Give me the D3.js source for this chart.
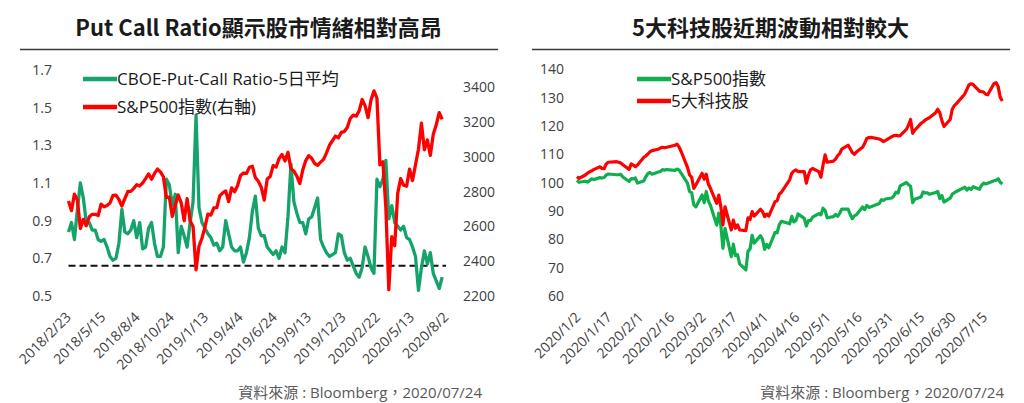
<!DOCTYPE html>
<html><head><meta charset="utf-8">
<script src="https://cdn.jsdelivr.net/npm/d3@7"></script>
<style>
body{margin:0;background:#fff;}
svg text{font-family:"Open Sans","Noto Sans CJK TC",sans-serif;}
</style></head><body>
<svg id="c" width="1024" height="403"></svg>
<script>
// ---------------- Left chart data (weekly observations from 2018-02-23) ----------------
const pcrStart = "2018-02-23";
const pcrRatio = [
0.84,0.89,0.80,0.96,1.10,1.02,0.89,0.89,0.85,0.85,
0.80,0.79,0.80,0.76,0.71,0.69,0.70,0.78,0.96,0.84,
0.83,0.85,0.90,0.81,0.89,0.75,0.76,0.86,0.89,0.78,
0.71,0.71,0.76,1.12,1.09,0.98,1.04,0.73,0.87,0.82,
0.76,0.89,1.00,1.46,0.97,0.89,0.86,0.83,0.81,0.77,
0.78,0.74,0.76,0.90,0.83,0.76,0.74,0.74,0.76,0.68,
0.73,0.81,0.95,1.03,0.86,0.82,0.82,0.76,0.74,0.72,
0.74,0.70,0.76,0.73,0.92,1.20,1.00,0.94,0.89,0.89,
0.83,0.91,0.92,0.97,1.02,0.80,0.76,0.73,0.71,0.72,
0.73,0.83,0.82,0.73,0.69,0.70,0.66,0.62,0.60,0.65,
0.76,0.71,0.65,0.62,1.12,1.08,1.12,1.22,0.91,0.98,
0.89,0.87,0.85,0.87,0.81,0.80,0.76,0.71,0.53,0.65,
0.74,0.67,0.73,0.62,0.58,0.54,0.60];
const spxWeekly = [
2747,2691,2786,2752,2588,2641,2604,2656,2670,2670,
2663,2728,2713,2721,2735,2779,2780,2755,2718,2760,
2801,2802,2819,2840,2833,2850,2875,2902,2872,2905,
2930,2914,2886,2767,2768,2658,2723,2781,2736,2633,
2760,2633,2600,2351,2486,2532,2596,2671,2665,2707,
2708,2776,2793,2804,2743,2822,2800,2834,2893,2907,
2905,2940,2946,2881,2860,2826,2752,2873,2887,2950,
2942,2990,3014,2977,3026,2932,2919,2889,2847,2926,
2979,3007,2992,2962,2952,2970,2986,3023,3067,3093,
3120,3110,3141,3146,3169,3221,3240,3235,3265,3330,
3295,3226,3328,3380,3338,2954,2972,2711,2237,2541,
2489,2790,2875,2837,2831,2930,2864,2955,3044,3194,
3041,3098,3009,3130,3185,3255,3216];
const pcrThreshold = 0.66;
const leftXTicks = ["2018/2/23","2018/5/15","2018/8/4","2018/10/24","2019/1/13","2019/4/4","2019/6/24","2019/9/13","2019/12/3","2020/2/22","2020/5/13","2020/8/2"];
const leftYTicks = [0.5,0.7,0.9,1.1,1.3,1.5,1.7];
const leftY2Ticks = [2200,2400,2600,2800,3000,3200,3400];

// ---------------- Right chart data (trading days 2020-01-02 .. 2020-07-24) ----------------
const tradeStart = "2020-01-02", tradeEnd = "2020-07-24";
const marketHolidays = ["2020-01-20","2020-02-17","2020-04-10","2020-05-25","2020-07-03"];
const spxIndexed = [
100.84,100.13,100.48,100.20,100.69,101.36,101.07,101.77,101.62,101.81,102.66,103.06,102.79,102.82,102.93,102.00,100.40,101.41,101.32,101.64,99.84,
100.56,102.07,103.22,103.56,103.00,103.75,103.93,104.60,104.43,104.62,104.32,104.81,104.41,103.31,99.85,96.83,96.46,92.20,91.44,
95.65,92.96,96.88,93.60,92.00,85.01,89.21,84.85,76.78,83.91,73.86,78.28,74.23,74.58,71.34,69.25,75.75,76.62,81.41,78.66,81.30,80.00,
76.47,78.21,77.03,82.45,82.31,85.12,86.35,85.48,88.09,86.15,86.65,88.97,87.38,84.70,86.64,86.60,87.80,89.10,88.63,90.98,90.15,
87.62,87.99,88.78,88.16,89.18,90.68,90.70,88.84,87.28,88.29,88.64,91.43,90.47,91.98,91.26,91.48,92.60,93.98,93.78,94.23,
94.58,95.36,96.66,96.33,98.86,100.05,99.27,98.74,92.92,94.13,94.92,96.72,96.37,96.43,95.88,96.50,96.92,94.41,95.45,93.14,94.50,95.96,
96.44,96.88,98.42,97.35,98.12,97.56,98.58,97.66,98.97,99.87,99.53,99.81,100.65,100.82,101.40,100.15,99.53];
const tech5 = [
102.1,101.5,102.7,103.3,103.8,104.1,104.6,105.6,105.0,104.9,106.6,107.2,107.4,107.2,106.9,106.3,104.7,106.6,106.2,105.6,106.2,
108.9,109.4,110.1,110.9,111.3,111.8,112.2,112.5,112.3,112.5,113.2,113.6,112.5,110.9,105.4,102.7,101.9,98.0,99.2,
103.3,101.2,103.0,99.5,98.0,92.7,95.6,91.5,85.1,91.5,83.3,86.8,83.9,85.1,83.3,83.1,87.6,87.0,89.8,88.2,90.6,89.8,
88.0,88.9,88.2,93.3,93.6,95.9,96.6,101.0,103.3,104.1,104.5,103.9,103.9,99.8,102.7,104.5,105.0,103.9,101.9,106.2,109.8,
107.2,107.6,108.3,109.5,110.3,111.8,113.2,112.1,110.6,110.0,110.8,112.5,113.9,115.6,115.9,116.0,115.4,115.0,114.5,114.9,
116.2,116.6,116.7,116.5,116.6,118.8,120.3,122.3,117.4,118.5,120.9,121.4,122.1,122.5,122.9,124.7,125.9,124.7,121.9,119.8,122.3,125.9,
127.2,127.9,131.3,132.9,134.5,134.9,134.6,132.3,132.1,132.0,131.2,131.0,135.0,135.3,133.9,130.1,128.8];
const rightXTicks = ["2020/1/2","2020/1/17","2020/2/1","2020/2/16","2020/3/2","2020/3/17","2020/4/1","2020/4/16","2020/5/1","2020/5/16","2020/5/31","2020/6/15","2020/6/30","2020/7/15"];
const rightYTicks = [60,70,80,90,100,110,120,130,140];

// ---------------- helpers ----------------
const svg = d3.select("#c");
const CJK = '"Noto Sans CJK TC","Open Sans",sans-serif';
const parseISO = d3.utcParse("%Y-%m-%d");
const parseSlash = s => { const p = s.split("/").map(Number); return new Date(Date.UTC(p[0], p[1]-1, p[2])); };
const fmtSlash = d => `${d.getUTCFullYear()}/${d.getUTCMonth()+1}/${d.getUTCDate()}`;
const AX = "#404040";

function styleAxis(g){
  g.select(".domain").remove();
  g.selectAll(".tick line").remove();
  g.selectAll("text").attr("fill", AX).style("font-size","14px");
}
function rotateX(g, dx){
  g.selectAll("text")
    .attr("text-anchor","end").attr("dy",0)
    .attr("x",dx).attr("y",22)
    .attr("transform",`rotate(-45,${dx},22)`);
}
function header(cx, x0, x1, title){
  svg.append("text").attr("x",cx).attr("y",36).attr("text-anchor","middle")
    .style("font-family",CJK).style("font-size","22px").style("font-weight","700")
    .attr("fill","#1a1a1a").text(title);
  svg.append("line").attr("x1",x0).attr("x2",x1).attr("y1",49.5).attr("y2",49.5)
    .attr("stroke","#3a3a3a").attr("stroke-width",1.3);
}
function source(xr){
  svg.append("text").attr("x",xr).attr("y",398).attr("text-anchor","end")
    .style("font-size","15px").attr("fill","#595959").text("資料來源 : Bloomberg，2020/07/24");
}
function legendItem(x, y, color, label){
  svg.append("line").attr("x1",x).attr("x2",x+34).attr("y1",y).attr("y2",y)
    .attr("stroke",color).attr("stroke-width",4.5);
  svg.append("text").attr("x",x+34).attr("y",y+6).style("font-size","17px")
    .attr("fill","#1a1a1a").text(label);
}

// ---------------- Left chart ----------------
const GREEN_L = "#16a36b", RED = "#fe0000", GREEN_R = "#0fae4f";
header(258.5, 20, 498, "Put Call Ratio顯示股市情緒相對高昂");
const pcrDates = pcrRatio.map((_, i) => d3.utcDay.offset(parseISO(pcrStart), 7*i));
const xL = d3.scaleUtc().domain([parseISO("2018-02-23"), parseISO("2020-08-02")]).range([68.5, 446]);
const yL = d3.scaleLinear().domain([0.5, 1.7]).range([296, 70]);
const yL2 = d3.scaleLinear().domain([2200, 3500]).range([296, 70]);

svg.append("g").attr("transform","translate(52,0)")
  .call(d3.axisLeft(yL).tickValues(leftYTicks).tickFormat(d3.format(".1f")).tickSize(0).tickPadding(0))
  .call(styleAxis);
svg.append("g").attr("transform","translate(463,0)")
  .call(d3.axisRight(yL2).tickValues(leftY2Ticks).tickFormat(d3.format("d")).tickSize(0).tickPadding(0))
  .call(styleAxis);
svg.append("g").attr("transform","translate(0,296)")
  .call(d3.axisBottom(xL).tickValues(leftXTicks.map(parseSlash)).tickFormat(fmtSlash).tickSize(0))
  .call(styleAxis).call(g => rotateX(g, 3));

svg.append("line")
  .attr("x1", xL.range()[0]).attr("x2", xL.range()[1])
  .attr("y1", yL(pcrThreshold)).attr("y2", yL(pcrThreshold))
  .attr("stroke","#111").attr("stroke-width",2).attr("stroke-dasharray","7,4");

svg.append("path").datum(pcrRatio)
  .attr("fill","none").attr("stroke",GREEN_L).attr("stroke-width",3.3).attr("stroke-linejoin","round")
  .attr("d", d3.line().x((d,i)=>xL(pcrDates[i])).y(d=>yL(d)));
svg.append("path").datum(spxWeekly)
  .attr("fill","none").attr("stroke",RED).attr("stroke-width",3.3).attr("stroke-linejoin","round")
  .attr("d", d3.line().x((d,i)=>xL(pcrDates[i])).y(d=>yL2(d)));

legendItem(83, 79, GREEN_L, "CBOE-Put-Call Ratio-5日平均");
legendItem(83, 107, RED, "S&P500指數(右軸)");
source(482);

// ---------------- Right chart ----------------
header(770.5, 532, 1010, "5大科技股近期波動相對較大");
const hol = new Set(marketHolidays);
const tradeDates = d3.utcDay.range(parseISO(tradeStart), d3.utcDay.offset(parseISO(tradeEnd),1))
  .filter(d => d.getUTCDay() !== 0 && d.getUTCDay() !== 6 && !hol.has(d3.utcFormat("%Y-%m-%d")(d)));
const xR = d3.scaleUtc().domain([parseISO("2020-01-02"), parseISO("2020-07-26")]).range([577, 1006.5]);
const yRt = d3.scaleLinear().domain([60, 140]).range([296, 69.3]);

svg.append("g").attr("transform","translate(564,0)")
  .call(d3.axisLeft(yRt).tickValues(rightYTicks).tickFormat(d3.format("d")).tickSize(0).tickPadding(0))
  .call(styleAxis);
svg.append("g").attr("transform","translate(0,296)")
  .call(d3.axisBottom(xR).tickValues(rightXTicks.map(parseSlash)).tickFormat(fmtSlash).tickSize(0))
  .call(styleAxis).call(g => rotateX(g, 4));

const n = Math.min(tradeDates.length, spxIndexed.length, tech5.length);
svg.append("path").datum(spxIndexed.slice(0,n))
  .attr("fill","none").attr("stroke",GREEN_R).attr("stroke-width",3.2).attr("stroke-linejoin","round")
  .attr("d", d3.line().x((d,i)=>xR(tradeDates[i])).y(d=>yRt(d)));
svg.append("path").datum(tech5.slice(0,n))
  .attr("fill","none").attr("stroke",RED).attr("stroke-width",3.2).attr("stroke-linejoin","round")
  .attr("d", d3.line().x((d,i)=>xR(tradeDates[i])).y(d=>yRt(d)));

legendItem(637, 79, GREEN_R, "S&P500指數");
legendItem(637, 101, RED, "5大科技股");
source(1004);
</script>
</body></html>
